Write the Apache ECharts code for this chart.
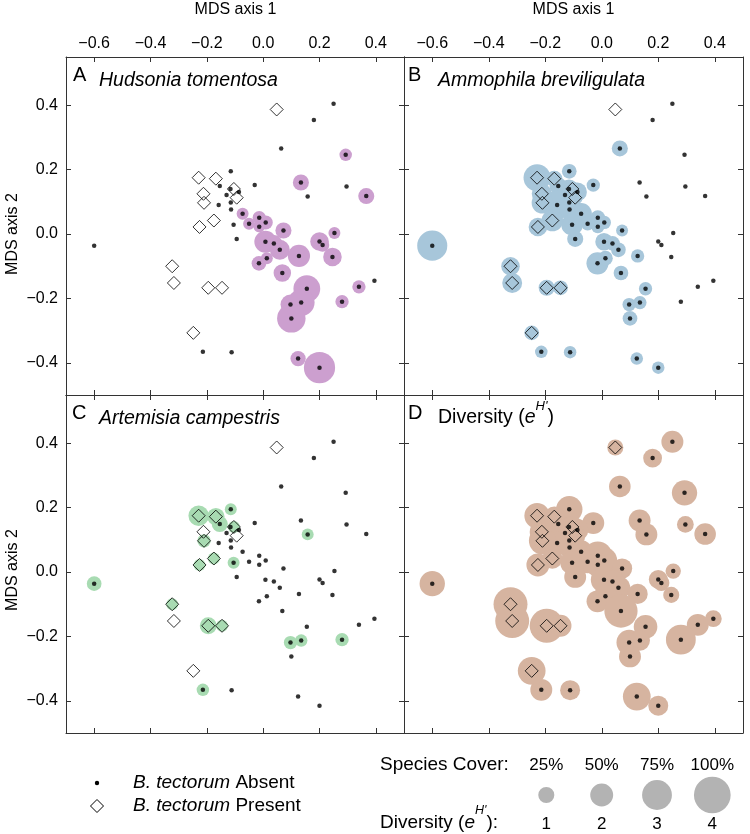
<!DOCTYPE html>
<html><head><meta charset="utf-8">
<script src="https://cdn.jsdelivr.net/npm/echarts@6/dist/echarts.min.js"></script>
<style>html,body{margin:0;padding:0;background:#fff}#c{width:750px;height:834px}</style>
</head><body><div id="c"></div>
<script>
// ---- data: sites (48 B. tectorum absent, then 14 present) ----
const siteX = [0.25,0.18,0.064,0.293,0.134,0.296,0.158,0.366,-0.115,-0.03,-0.154,-0.116,-0.086,-0.13,-0.115,-0.158,-0.114,-0.073,-0.014,0.009,-0.105,-0.05,-0.014,0.072,-0.094,0.008,0.038,0.059,0.127,-0.015,0.013,0.068,0.253,0.2,0.211,0.246,0.395,0.34,0.155,0.097,0.135,0.28,0.1,-0.6,-0.214,-0.112,0.124,0.2,
  0.048,-0.229,-0.168,-0.212,-0.21,-0.104,-0.094,-0.175,-0.226,-0.323,-0.317,-0.195,-0.146,-0.248];
const siteY = [0.405,0.354,0.266,0.246,0.16,0.148,0.117,0.118,0.195,0.152,0.149,0.14,0.131,0.121,0.098,0.09,0.076,0.063,0.051,0.036,0.029,0.032,0.023,0.011,-0.015,-0.024,-0.029,-0.049,-0.068,-0.091,-0.075,-0.121,0.003,-0.023,-0.034,-0.071,-0.145,-0.164,-0.17,-0.219,-0.213,-0.21,-0.262,-0.036,-0.366,-0.367,-0.387,-0.415,
  0.387,0.175,0.172,0.125,0.097,0.14,0.113,0.042,0.022,-0.1,-0.152,-0.167,-0.167,-0.307];
const present = [0,0,0,0,0,0,0,0,0,0,0,0,0,0,0,0,0,0,0,0,0,0,0,0,0,0,0,0,0,0,0,0,0,0,0,0,0,0,0,0,0,0,0,0,0,0,0,0,
  1,1,1,1,1,1,1,1,1,1,1,1,1,1];
// species cover (%)
const hudsonia = [0,0,0,12,25,0,0,25,0,0,0,0,0,0,0,0,0,10,15,18,0,10,8,25,0,47,28,39,47,20,10,30,10,34,15,34,0,15,64,39,64,15,70,0,0,0,22,80,
  0,0,0,0,0,0,0,0,0,0,0,0,0,0];
const ammophila = [0,0,25,0,0,0,0,0,20,15,30,35,35,35,45,70,40,45,20,15,45,15,15,10,25,30,20,20,15,47,20,20,0,0,0,0,0,0,15,15,15,0,20,76,12,12,12,12,
  0,65,25,40,45,20,20,45,34,34,39,25,20,20];
const artemisia = [0,0,0,0,0,0,10,0,10,0,25,0,0,0,0,0,0,0,0,0,10,0,0,0,0,0,0,0,0,0,0,0,0,0,0,0,0,0,0,15,12,15,0,20,12,0,0,0,
  0,41,30,0,15,10,0,10,10,10,0,28,10,0];
// diversity (e^H')
const diversity = [1.86,1.4,1.8,2.35,1.85,1.1,1.85,1.8,2.5,1.85,1.8,1.5,1.8,1.6,1.8,2.0,1.8,2.0,2.8,2.4,2.1,2.0,2.2,1.6,1.85,2.5,2.0,2.1,1.6,1.85,2.0,3.5,0.9,1.4,1.0,1.0,1.1,1.85,2.1,2.35,1.6,3.0,1.85,2.35,1.85,1.57,2.7,1.57,
  1.0,2.35,1.6,2.2,2.6,1.8,1.6,1.6,2.0,3.6,3.6,3.6,1.85,2.7];
const xTicks = [-0.6,-0.4,-0.2,0.0,0.2,0.4];
const yTicks = [-0.4,-0.2,0.0,0.2,0.4];
const legendCover = [25,50,75,100];
const legendDiv = [1,2,3,4];
const panelLetters = ['A','B','C','D'];

// ---- styling ----
const FONT = '"Liberation Sans", Arial, Helvetica, sans-serif';
const colors = ['#cc9fcf','#a7c6da','#a8dbb2','#d6b4a0'];
const coverSize = c => 9.2 + 0.275 * c;
const divSize = v => 9.2 + 6.875 * v;
const grids = [
  {left:66, top:57, width:338, height:338},
  {left:404, top:57, width:339, height:338},
  {left:66, top:395, width:338, height:338},
  {left:404, top:395, width:339, height:338}
];
const fmt = v => (v < -1e-9 ? '\u2212' : '') + Math.abs(v).toFixed(1);
const lineCol = '#333';

const xAxis = [], yAxis = [];
grids.forEach((g, gi) => {
  ['bottom','top'].forEach(pos => {
    xAxis.push({type:'value', gridIndex:gi, position:pos, min:-0.7, max:0.5,
      axisLine:{show:true, onZero:false, lineStyle:{color:lineCol, width:1}},
      axisTick:{show:true, inside:true, length:5, customValues:xTicks, lineStyle:{color:lineCol}},
      axisLabel:{show: pos==='top' && gi<2, customValues:xTicks, formatter:fmt, fontSize:16, fontFamily:FONT, color:'#000', margin:5},
      splitLine:{show:false}});
  });
  ['left','right'].forEach(pos => {
    yAxis.push({type:'value', gridIndex:gi, position:pos, min:-0.5, max:0.55,
      axisLine:{show:true, onZero:false, lineStyle:{color:lineCol, width:1}},
      axisTick:{show:true, inside:true, length:5, customValues:yTicks, lineStyle:{color:lineCol}},
      axisLabel:{show: pos==='left' && (gi===0||gi===2), customValues:yTicks, formatter:fmt, fontSize:16, fontFamily:FONT, color:'#000', margin:8},
      splitLine:{show:false}});
  });
});

const panelValues = [hudsonia, ammophila, artemisia, diversity];
const series = [];
panelValues.forEach((vals, gi) => {
  const sizeFn = gi === 3 ? divSize : coverSize;
  const circ = [], dots = [], dias = [];
  for (let i = 0; i < siteX.length; i++) {
    if (vals[i] > 0) circ.push([siteX[i], siteY[i], vals[i]]);
    if (present[i]) dias.push([siteX[i], siteY[i]]); else dots.push([siteX[i], siteY[i]]);
  }
  series.push({type:'scatter', xAxisIndex:2*gi, yAxisIndex:2*gi, data:circ, z:2,
    symbol:'circle', symbolSize: d => sizeFn(d[2]), itemStyle:{color:colors[gi], opacity:1}, emphasis:{disabled:true}, silent:true});
  series.push({type:'scatter', xAxisIndex:2*gi, yAxisIndex:2*gi, data:dots, z:3,
    symbol:'circle', symbolSize:4.5, itemStyle:{color:'#000'}, emphasis:{disabled:true}, silent:true});
  series.push({type:'scatter', xAxisIndex:2*gi, yAxisIndex:2*gi, data:dias, z:3,
    symbol:'diamond', symbolSize:13, itemStyle:{color:'rgba(0,0,0,0)', borderColor:'#000', borderWidth:1}, emphasis:{disabled:true}, silent:true});
});

function T(x, y, text, o) {
  o = o || {};
  return {type:'text', x:x, y:y, rotation:o.rotation||0, z:10,
    style:{text:text, fill:'#000', fontSize:o.size||16, fontFamily:FONT, fontStyle:o.italic?'italic':'normal',
      align:o.align||'left', verticalAlign:o.va||'middle', rich:o.rich}};
}
const rs = (sz, extra) => Object.assign({fontSize:sz, fontFamily:FONT, fill:'#000'}, extra||{});
const graphic = [];
graphic.push(T(235.5, 10, 'MDS axis 1', {align:'center'}));
graphic.push(T(573.5, 10, 'MDS axis 1', {align:'center'}));
graphic.push(T(13, 234, 'MDS axis 2', {align:'center', rotation:Math.PI/2}));
graphic.push(T(13, 570, 'MDS axis 2', {align:'center', rotation:Math.PI/2}));
// panel labels
graphic.push(T(73, 75, panelLetters[0], {size:20}));
graphic.push(T(99, 81, 'Hudsonia tomentosa', {size:19.5, italic:true}));
graphic.push(T(408, 75, panelLetters[1], {size:20}));
graphic.push(T(438, 81, 'Ammophila breviligulata', {size:19.5, italic:true}));
graphic.push(T(72, 413, panelLetters[2], {size:20}));
graphic.push(T(99, 419, 'Artemisia campestris', {size:19.5, italic:true}));
graphic.push(T(408, 413, panelLetters[3], {size:20}));
graphic.push(T(438, 414, '{n|Diversity (}{i|e}{s|H\'}{n|)}', {size:19.5, va:'middle', rich:{
  n:rs(19.5,{lineHeight:28, verticalAlign:'bottom'}), i:rs(19.5,{fontStyle:'italic', lineHeight:28, verticalAlign:'bottom'}),
  s:rs(13,{fontStyle:'italic', lineHeight:28, verticalAlign:'top'})}}));
// legend (left)
graphic.push({type:'circle', shape:{cx:97, cy:783, r:2.2}, style:{fill:'#000'}, z:10});
graphic.push({type:'polygon', shape:{points:[[97,799.5],[103.5,806],[97,812.5],[90.5,806]]}, style:{fill:'none', stroke:'#000', lineWidth:1}, z:10});
const legRich = {i:rs(19,{fontStyle:'italic'}), n:rs(19)};
graphic.push(T(133, 783, '{i|B. tectorum} {n|Absent}', {size:19, rich:legRich}));
graphic.push(T(133, 806, '{i|B. tectorum} {n|Present}', {size:19, rich:legRich}));
// legend (right)
graphic.push(T(380, 765, 'Species Cover:', {size:19}));
graphic.push(T(380, 818, '{n|Diversity (}{i|e}{s|H\'}{n|):}', {size:19, rich:{
  n:rs(19,{lineHeight:28, verticalAlign:'bottom'}), i:rs(19,{fontStyle:'italic', lineHeight:28, verticalAlign:'bottom'}),
  s:rs(12.5,{fontStyle:'italic', lineHeight:28, verticalAlign:'top'})}}));
const legX = [546.3, 601.7, 657, 712.3];
legendCover.forEach((c, k) => {
  graphic.push(T(legX[k], 765, c + '%', {size:17, align:'center'}));
  graphic.push({type:'circle', shape:{cx:legX[k], cy:795, r:coverSize(c)/2}, style:{fill:'#b3b3b3'}, z:10});
  graphic.push(T(legX[k], 824, String(legendDiv[k]), {size:17, align:'center'}));
});

const chart = echarts.init(document.getElementById('c'), null, {renderer:'canvas'});
chart.setOption({animation:false, backgroundColor:'#fff', grid:grids, xAxis:xAxis, yAxis:yAxis, series:series, graphic:graphic});
</script></body></html>
